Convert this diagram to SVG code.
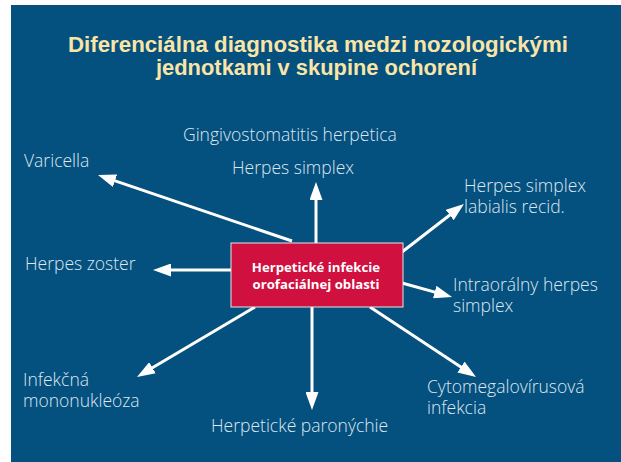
<svg xmlns="http://www.w3.org/2000/svg" width="621" height="462" viewBox="0 0 621 462">
  <defs>
    <marker id="ah" viewBox="0 0 18 13" refX="3" refY="6.5" markerWidth="18" markerHeight="13" markerUnits="userSpaceOnUse" orient="auto">
      <path d="M0,0 L18,6.5 L0,13 z" fill="#ffffff"/>
    </marker>
    <style>
      .title { font-family: "Liberation Sans", Arial, sans-serif; font-weight: bold; font-size: 22px; fill: #fbe5a6; }
      .lbl { font-family: "Open Sans", "Liberation Sans", sans-serif; font-weight: 300; font-size: 17.5px; fill: #dfe7ef; }
      .box { fill: #d0103f; stroke: #e6e6e6; stroke-width: 1; }
      .boxt { font-family: "Open Sans", "Liberation Sans", sans-serif; font-weight: bold; font-size: 13.2px; fill: #ffffff; }
      .arr { stroke: #ffffff; stroke-width: 3; fill: none; marker-end: url(#ah); }
    </style>
  </defs>
  <rect x="0" y="0" width="621" height="462" fill="#ffffff"/>
  <rect x="11" y="5" width="610" height="457" fill="#04507f"/>
  <g id="title">
    <text class="title" x="68" y="52" textLength="500" lengthAdjust="spacingAndGlyphs">Diferenciálna diagnostika medzi nozologickými</text>
    <text class="title" x="156" y="75" textLength="321" lengthAdjust="spacingAndGlyphs">jednotkami v skupine ochorení</text>
  </g>
  <g id="connectors">
    <line class="arr" x1="316" y1="243" x2="316" y2="197"/>
    <line class="arr" x1="292" y1="241" x2="112.2" y2="179.8"/>
    <line class="arr" x1="231" y1="270" x2="168" y2="270"/>
    <line class="arr" x1="402" y1="252" x2="452.1" y2="213.2"/>
    <line class="arr" x1="402" y1="283" x2="437.6" y2="292.9"/>
    <line class="arr" x1="370" y1="307" x2="463.5" y2="368.7"/>
    <line class="arr" x1="312" y1="307" x2="312" y2="395"/>
    <line class="arr" x1="255" y1="307" x2="149.9" y2="369.3"/>
  </g>
  <g id="center">
    <rect class="box" x="231" y="243" width="172" height="64"/>
    <text class="boxt" x="316" y="272" text-anchor="middle">Herpetické infekcie</text>
    <text class="boxt" x="316" y="289" text-anchor="middle">orofaciálnej oblasti</text>
  </g>
  <g id="gingivostomatitis">
    <text class="lbl" x="183" y="141">Gingivostomatitis herpetica</text>
  </g>
  <g id="herpes-simplex">
    <text class="lbl" x="232" y="174">Herpes simplex</text>
  </g>
  <g id="varicella">
    <text class="lbl" x="24" y="167">Varicella</text>
  </g>
  <g id="herpes-zoster">
    <text class="lbl" x="25" y="270">Herpes zoster</text>
  </g>
  <g id="labialis">
    <text class="lbl" x="464" y="192">Herpes simplex</text>
    <text class="lbl" x="464" y="213">labialis recid.</text>
  </g>
  <g id="intraoralny">
    <text class="lbl" x="453" y="291">Intraorálny herpes</text>
    <text class="lbl" x="453" y="312">simplex</text>
  </g>
  <g id="mononukleoza">
    <text class="lbl" x="23" y="386">Infekčná</text>
    <text class="lbl" x="23" y="407">mononukleóza</text>
  </g>
  <g id="paronychie">
    <text class="lbl" x="211" y="432">Herpetické paronýchie</text>
  </g>
  <g id="cytomegalo">
    <text class="lbl" x="427" y="393">Cytomegalovírusová</text>
    <text class="lbl" x="427" y="414">infekcia</text>
  </g>
</svg>
